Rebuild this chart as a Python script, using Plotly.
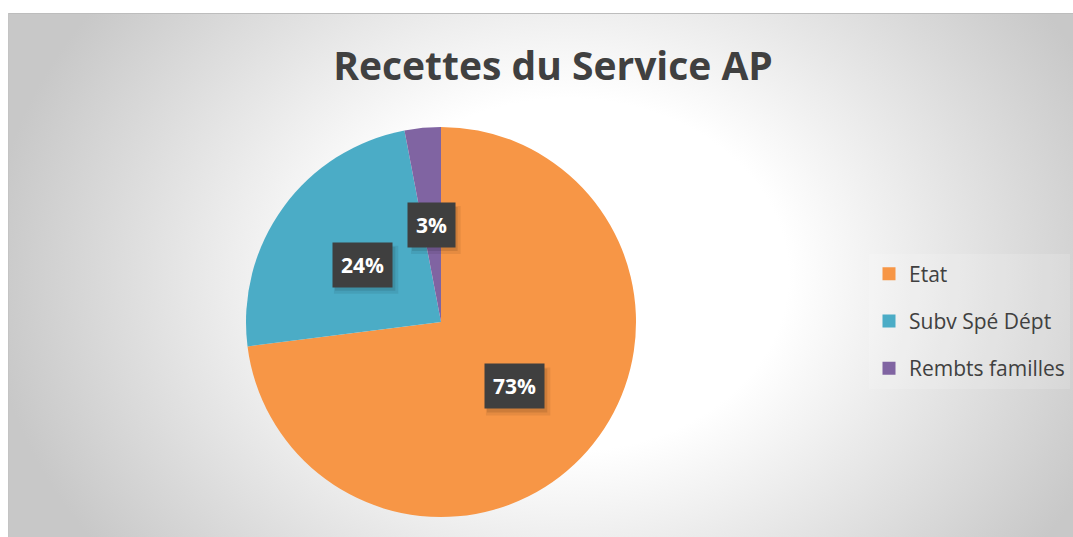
import base64
import numpy as np
import plotly.graph_objects as go

# ---- data ----
labels = ["Etat", "Subv Spé Dépt", "Rembts familles"]
values = [73, 24, 3]
colors = ["#F79646", "#4BACC6", "#8064A2"]
title_text = "Recettes du Service AP"

# ---- layout geometry (pixels) ----
W, H = 1073, 537
CX, CY, R = 441, 322, 195
AREA_X0, AREA_Y0 = 8, 13

# background radial gradient (chart area fill)
aw, ah = W - AREA_X0, H - AREA_Y0
gcx, gcy = 560, 262
svg = f'''<svg xmlns="http://www.w3.org/2000/svg" width="{aw}" height="{ah}" viewBox="0 0 {aw} {ah}" preserveAspectRatio="none">
<defs><radialGradient id="g" gradientUnits="userSpaceOnUse" cx="{gcx}" cy="{gcy}" r="580"
 gradientTransform="translate({gcx} {gcy}) scale(1 0.8) translate(-{gcx} -{gcy})">
<stop offset="0.38" stop-color="#ffffff"/><stop offset="1" stop-color="#c8c8c8"/></radialGradient></defs>
<rect x="0" y="0" width="{aw}" height="{ah}" fill="url(#g)"/>
<line x1="0" y1="0.5" x2="{aw}" y2="0.5" stroke="#bdbdbd" stroke-width="1"/>
<line x1="0.5" y1="0" x2="0.5" y2="{ah}" stroke="#c4c4c4" stroke-width="1"/>
</svg>'''
bg_src = "data:image/svg+xml;base64," + base64.b64encode(svg.encode()).decode()

fig = go.Figure()
fig.add_trace(go.Pie(
    labels=labels, values=values, sort=False, direction="clockwise", rotation=0,
    marker=dict(colors=colors, line=dict(width=0)),
    textinfo="none", hoverinfo="label+percent", showlegend=False,
    domain=dict(x=[(CX - R) / W, (CX + R) / W], y=[1 - (CY + R) / H, 1 - (CY - R) / H]),
))

# legend entries
for lab, col in zip(labels, colors):
    fig.add_trace(go.Scatter(
        x=[None], y=[None], mode="markers", name=lab, legendgroup=lab,
        marker=dict(symbol="square", size=13, color=col), showlegend=True,
    ))

# data labels (dark boxes) placed at half radius along each slice's mid-angle
vals = np.array(values, dtype=float)
frac = vals / vals.sum()
mid = (np.cumsum(frac) - frac / 2) * 2 * np.pi
annotations = []
shapes = []
for f, a in zip(frac, mid):
    xp = CX + 0.5 * R * np.sin(a)
    yp = CY - 0.5 * R * np.cos(a)
    s = f"{round(f * 100):.0f}%"
    annotations.append(dict(x=xp / W, y=1 - yp / H, xref="paper", yref="paper", showarrow=False,
                            text=f"<b>{s}</b>", font=dict(family="Open Sans", size=21, color="white"),
                            borderpad=8, xanchor="center", yanchor="middle", bgcolor="#3f3f3f"))
    hw = 8 + 7.4 * len(s)
    hh = 22
    for grow, (ox, oy), op in [(0, (3, -4), 0.10), (2, (4, -5), 0.07)]:
        shapes.append(dict(type="rect", xref="paper", yref="paper",
                           xsizemode="pixel", ysizemode="pixel",
                           xanchor=xp / W, yanchor=1 - yp / H,
                           x0=-hw + ox - grow, x1=hw + ox + grow,
                           y0=-hh + oy - grow, y1=hh + oy + grow,
                           fillcolor=f"rgba(0,0,0,{op})", line=dict(width=0), layer="above"))

fig.update_layout(
    width=W, height=H, autosize=False,
    margin=dict(l=0, r=0, t=0, b=0),
    paper_bgcolor="white", plot_bgcolor="rgba(0,0,0,0)",
    xaxis=dict(visible=False), yaxis=dict(visible=False),
    title=dict(text=f"<b>{title_text}</b>", x=553 / W, xanchor="center", y=1 - 66 / H, yanchor="middle",
               font=dict(family="Open Sans", size=39, color="#404040")),
    legend=dict(x=869 / W, xanchor="left", y=1 - 321 / H, yanchor="middle",
                font=dict(family="Open Sans", size=21, color="#404040"),
                bgcolor="rgba(255,255,255,0.15)", tracegroupgap=17, itemclick=False),
    images=[dict(source=bg_src, xref="paper", yref="paper", x=AREA_X0 / W, y=1 - AREA_Y0 / H,
                 sizex=aw / W, sizey=ah / H, xanchor="left", yanchor="top", sizing="stretch", layer="below")],
    annotations=annotations,
    shapes=shapes,
    showlegend=True,
)

fig.write_html("out.html", config={"displayModeBar": False},
               post_script="document.body.style.margin='0';document.body.style.overflow='hidden';")
